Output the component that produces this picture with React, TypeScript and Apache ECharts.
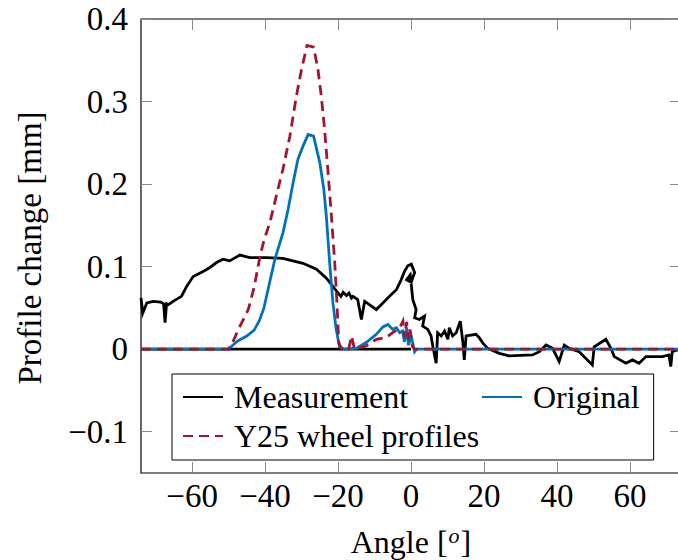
import { useEffect, useRef } from "react";
import * as echarts from "echarts";

const FONT = "Liberation Serif";

const xTicks = [-60, -40, -20, 0, 20, 40, 60];
const yTicks = [-0.1, 0, 0.1, 0.2, 0.3, 0.4];

// Angle [deg], profile change [mm]
const measurement: [number, number][] = [
  [-74.0, 0.062], [-73.5, 0.044], [-72.4, 0.056], [-70.6, 0.058], [-68.6, 0.057],
  [-67.8, 0.055], [-67.4, 0.032], [-67.0, 0.055], [-66.5, 0.054], [-65.2, 0.058],
  [-62.9, 0.064], [-61.5, 0.076], [-59.7, 0.088], [-57.0, 0.094], [-55.1, 0.099],
  [-53.3, 0.105], [-51.5, 0.109], [-49.7, 0.107], [-46.9, 0.114], [-44.2, 0.111],
  [-39.6, 0.111], [-35.1, 0.110], [-33.2, 0.108], [-29.6, 0.104], [-25.9, 0.097],
  [-23.2, 0.086], [-21.4, 0.076], [-20.0, 0.068], [-19.2, 0.064], [-18.6, 0.069],
  [-17.7, 0.065], [-17.0, 0.068], [-16.3, 0.062], [-15.9, 0.064], [-14.6, 0.060],
  [-13.6, 0.036], [-12.7, 0.058], [-11.4, 0.054], [-9.5, 0.048], [-7.7, 0.056],
  [-5.9, 0.064], [-4.0, 0.072], [-2.7, 0.084], [-1.8, 0.094], [-0.9, 0.101],
  [0.1, 0.103], [1.0, 0.093], [0.05, 0.081], [-1.2, 0.084], [-0.2, 0.09],
  [0.5, 0.060], [1.4, 0.048], [1.0, 0.038], [2.3, 0.036], [3.7, 0.040],
  [3.2, 0.028], [4.6, 0.024], [5.5, 0.016], [6.0, 0.003], [6.9, -0.017],
  [7.3, 0.020], [8.3, 0.016], [9.2, 0.022], [10.1, 0.012], [10.5, 0.026],
  [11.4, 0.016], [12.4, 0.020], [13.5, 0.034], [14.2, 0.009], [14.6, -0.013],
  [15.1, 0.016], [17.8, 0.018], [18.7, 0.014], [19.6, 0.008], [21.0, 0.001],
  [24.2, -0.005], [26.9, -0.008], [33.3, -0.007], [35.2, -0.003], [37.0, 0.005],
  [38.8, 0.001], [40.6, -0.015], [42.0, 0.005], [43.4, 0.001], [46.1, -0.003],
  [49.7, -0.019], [50.2, 0.003], [53.4, 0.012], [54.8, 0.001], [55.7, -0.009],
  [58.9, -0.017], [60.7, -0.013], [62.5, -0.017], [64.4, -0.009], [68.9, -0.009],
  [70.7, -0.007], [71.2, -0.021], [71.6, -0.003], [72.9, -0.001], [74.0, 0.0],
];

const original: [number, number][] = [
  [-74.0, 0.0], [-50.1, 0.0], [-47.5, 0.010], [-45.0, 0.016], [-43.0, 0.023],
  [-41.5, 0.035], [-40.3, 0.050], [-39.2, 0.072], [-37.3, 0.109], [-35.1, 0.141],
  [-33.7, 0.169], [-32.3, 0.202], [-31.0, 0.230], [-29.6, 0.246], [-28.2, 0.260],
  [-26.7, 0.258], [-25.0, 0.226], [-23.9, 0.194], [-23.2, 0.161], [-22.3, 0.105],
  [-21.4, 0.056], [-20.5, 0.024], [-19.6, 0.003], [-18.2, 0.0], [-15.0, 0.001],
  [-12.3, 0.008], [-9.5, 0.018], [-7.7, 0.027], [-6.3, 0.030], [-5.0, 0.024],
  [-4.0, 0.026], [-3.1, 0.020], [-2.3, 0.022], [-1.8, 0.009], [-1.2, 0.026],
  [-0.7, 0.005], [0.05, 0.016], [1.0, -0.003], [1.5, 0.0], [74.0, 0.0],
];

const y25: [number, number][] = [
  [-74.0, 0.0], [-50.1, 0.0], [-49.2, 0.005], [-47.3, 0.024], [-44.6, 0.048],
  [-43.0, 0.075], [-41.5, 0.110], [-40.3, 0.132], [-38.7, 0.153], [-36.9, 0.186],
  [-35.1, 0.218], [-33.2, 0.258], [-31.4, 0.307], [-30.0, 0.339], [-28.5, 0.368],
  [-26.7, 0.366], [-25.5, 0.339], [-24.6, 0.307], [-23.7, 0.267], [-22.8, 0.218],
  [-21.8, 0.161], [-20.9, 0.105], [-20.3, 0.056], [-19.8, 0.008], [-19.0, 0.0],
  [-17.1, 0.0], [-16.3, 0.016], [-15.5, 0.0], [-12.3, 0.004], [-9.5, 0.012],
  [-6.8, 0.014], [-5.0, 0.020], [-3.1, 0.026], [-2.2, 0.034], [-1.8, 0.014],
  [-1.2, 0.033], [-0.7, 0.012], [-0.3, 0.024], [0.4, 0.003], [1.0, 0.0],
  [74.0, 0.0],
];

const zeroLine: [number, number][] = [[-74.0, 0.0], [0.0, 0.0]];

const minus = (v: number) => String(v).replace("-", "\u2212");

const tickStyle = { color: "#8a8a8a", width: 1 };
const LW = 2.8;

export default function App() {
  const ref = useRef<HTMLDivElement>(null);

  useEffect(() => {
    if (!ref.current) return;
    const chart = echarts.init(ref.current, undefined, { renderer: "svg" });
    chart.setOption({
      animation: false,
      backgroundColor: "#fff",
      grid: {
        left: 141,
        right: -3,
        top: 19,
        bottom: 87,
        show: true,
        borderColor: "#000",
        borderWidth: 1.2,
        backgroundColor: "transparent",
        containLabel: false,
        outerBoundsMode: "none",
      },
      legend: {
        data: ["Measurement", "Original", "Y25 wheel profiles"],
        left: 172,
        top: 374,
        width: 500,
        orient: "horizontal",
        padding: [7, 14, 8, 10],
        itemGap: 7,
        itemWidth: 40,
        itemHeight: 14,
        itemStyle: { opacity: 0 },
        backgroundColor: "#fff",
        borderColor: "#000",
        borderWidth: 1,
        borderRadius: 0,
        formatter: (name: string) =>
          name === "Original" ? `{n|${name}}` : `{w|${name}}`,
        textStyle: {
          fontFamily: FONT,
          fontSize: 32,
          color: "#000",
          lineHeight: 28,
          rich: {
            w: { width: 240, fontFamily: FONT, fontSize: 32, lineHeight: 28, padding: [0, 0, 0, 6] },
            n: { fontFamily: FONT, fontSize: 32, lineHeight: 28, padding: [0, 0, 0, 6] },
          },
        },
      },
      xAxis: [
        {
          type: "value",
          min: -74,
          max: 74,
          position: "bottom",
          axisLine: { show: false, onZero: false },
          axisTick: { inside: true, length: 11, lineStyle: tickStyle, customValues: xTicks },
          axisLabel: {
            customValues: xTicks,
            formatter: minus,
            fontFamily: FONT,
            fontSize: 33,
            color: "#000",
            margin: 6,
          },
          splitLine: { show: false },
          name: "Angle [{s|o}]",
          nameLocation: "middle",
          nameGap: 51,
          nameTextStyle: {
            fontFamily: FONT,
            fontSize: 32,
            color: "#000",
            lineHeight: 36,
            rich: {
              s: {
                fontFamily: FONT,
                fontSize: 22,
                fontStyle: "italic",
                verticalAlign: "top",
                lineHeight: 22,
                padding: [0, 1, 0, 1],
              },
            },
          },
        },
        {
          type: "value",
          min: -74,
          max: 74,
          position: "top",
          axisLine: { show: false, onZero: false },
          axisTick: { inside: true, length: 11, lineStyle: tickStyle, customValues: xTicks },
          axisLabel: { show: false },
          splitLine: { show: false },
        },
      ],
      yAxis: [
        {
          type: "value",
          min: -0.15,
          max: 0.4,
          position: "left",
          axisLine: { show: false, onZero: false },
          axisTick: { inside: true, length: 11, lineStyle: tickStyle, customValues: yTicks },
          axisLabel: {
            customValues: yTicks,
            formatter: minus,
            fontFamily: FONT,
            fontSize: 33,
            color: "#000",
            margin: 13,
          },
          splitLine: { show: false },
          name: "Profile change [mm]",
          nameLocation: "middle",
          nameGap: 95,
          nameTextStyle: {
            fontFamily: FONT,
            fontSize: 33,
            color: "#000",
            padding: [0, 4, 0, 0],
          },
        },
        {
          type: "value",
          min: -0.15,
          max: 0.4,
          position: "right",
          axisLine: { show: false, onZero: false },
          axisTick: { inside: true, length: 11, lineStyle: tickStyle, customValues: yTicks },
          axisLabel: { show: false },
          splitLine: { show: false },
        },
      ],
      series: [
        {
          type: "line",
          data: zeroLine,
          symbol: "none",
          silent: true,
          lineStyle: { color: "#000", width: LW },
        },
        {
          name: "Measurement",
          type: "line",
          data: measurement,
          symbol: "none",
          lineStyle: { color: "#000", width: LW, join: "miter" },
          itemStyle: { color: "#000" },
        },
        {
          name: "Original",
          type: "line",
          data: original,
          symbol: "none",
          lineStyle: { color: "#0072BD", width: LW, join: "miter" },
          itemStyle: { color: "#0072BD" },
        },
        {
          name: "Y25 wheel profiles",
          type: "line",
          data: y25,
          symbol: "none",
          lineStyle: { color: "#A2142F", width: LW, type: [10, 6], join: "miter" },
          itemStyle: { color: "#A2142F" },
        },
      ],
    });
    return () => chart.dispose();
  }, []);

  return (
    <div
      ref={ref}
      style={{ position: "fixed", left: 0, top: 0, width: 678, height: 560 }}
    />
  );
}
